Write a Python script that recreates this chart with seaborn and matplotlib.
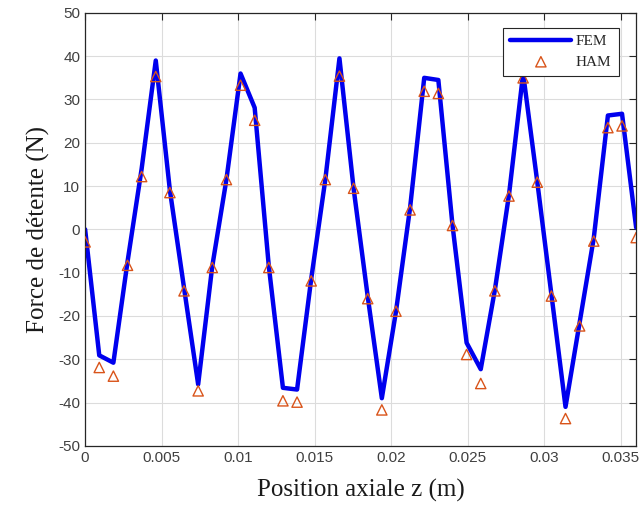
import numpy as np
import pandas as pd
import matplotlib
matplotlib.use("Agg")
import matplotlib.pyplot as plt
import seaborn as sns

# Data
z_start, z_end, n_points = 0.0, 0.036, 40
z = np.linspace(z_start, z_end, n_points)

fem = [0.0, -29.1, -30.8, -7.5, 14.0, 39.0, 9.0, -13.5, -35.8, -8.5,
       11.5, 36.0, 28.1, -8.5, -36.6, -37.0, -11.5, 11.5, 39.5, 9.5,
       -15.5, -39.0, -19.0, 5.0, 35.0, 34.5, 1.0, -26.2, -32.3, -14.0,
       8.0, 36.0, 11.0, -15.0, -41.0, -21.5, -2.0, 26.3, 26.7, 0.4]

ham = [-2.9, -31.9, -33.9, -8.3, 12.2, 35.3, 8.5, -14.2, -37.3, -8.8,
       11.5, 33.3, 25.2, -8.8, -39.6, -39.9, -11.9, 11.5, 35.4, 9.5,
       -16.0, -41.7, -18.9, 4.5, 31.9, 31.4, 0.9, -28.9, -35.6, -14.2,
       7.7, 35.0, 10.9, -15.4, -43.7, -22.3, -2.7, 23.5, 23.9, -1.9]

x_ticks = [0, 0.005, 0.01, 0.015, 0.02, 0.025, 0.03, 0.035]
x_tick_labels = ["0", "0.005", "0.01", "0.015", "0.02", "0.025", "0.03", "0.035"]
y_ticks = [-50, -40, -30, -20, -10, 0, 10, 20, 30, 40, 50]

df = pd.DataFrame({"z": z, "FEM": fem, "HAM": ham})

sns.set_style("white")
plt.rcParams["font.family"] = ["Liberation Sans", "DejaVu Sans"]
plt.rcParams["axes.unicode_minus"] = False

fig = plt.figure(figsize=(6.4, 5.16), dpi=100)
ax = fig.add_axes([0.133, 0.136, 0.861, 0.839])

blue = "#0000EE"
orange = "#D9541A"

sns.lineplot(data=df, x="z", y="FEM", ax=ax, color=blue, linewidth=3.2,
             label="FEM", sort=False, estimator=None)
sns.scatterplot(data=df, x="z", y="HAM", ax=ax, marker="^", s=55,
                facecolors="none", edgecolors=orange, linewidths=1.0,
                label="HAM", zorder=3)

ax.set_xlim(0, 0.036)
ax.set_ylim(-50, 50)
ax.set_xticks(x_ticks)
ax.set_xticklabels(x_tick_labels)
ax.set_yticks(y_ticks)

ax.grid(True, color="#DCDCDC", linewidth=0.8)
ax.tick_params(direction="in", length=5, width=0.8, colors="#262626",
               labelsize=11, top=True, right=True, labelcolor="#404040")
for s in ax.spines.values():
    s.set_color("#262626")
    s.set_linewidth(0.9)
    s.set_visible(True)

serif = ["Liberation Serif", "DejaVu Serif"]
ax.set_xlabel("Position axiale z (m)", family=serif, fontsize=18, labelpad=10,
              color="#1a1a1a")
ax.set_ylabel("Force de détente (N)", family=serif, fontsize=18, labelpad=6,
              color="#1a1a1a")

leg = ax.legend(loc="upper right", bbox_to_anchor=(0.968, 0.966),
                prop={"family": serif, "size": 11}, fancybox=False,
                edgecolor="#262626", framealpha=1, handlelength=4.0,
                borderpad=0.45, labelspacing=0.45, handletextpad=0.3,
                borderaxespad=0.0)
leg.get_frame().set_linewidth(0.8)

fig.savefig("out.png", dpi=100)
